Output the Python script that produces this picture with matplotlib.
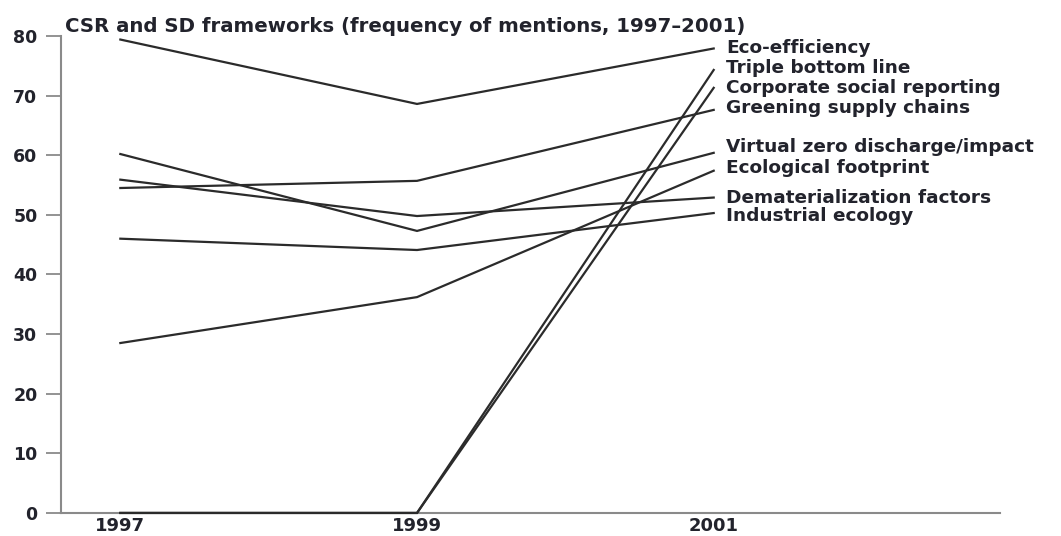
import matplotlib
matplotlib.use("Agg")
import matplotlib.pyplot as plt

years = [1997, 1999, 2001]
year_labels = ["1997", "1999", "2001"]
title = "CSR and SD frameworks (frequency of mentions, 1997\u20132001)"

series_names = [
    "Eco-efficiency",
    "Triple bottom line",
    "Corporate social reporting",
    "Greening supply chains",
    "Virtual zero discharge/impact",
    "Ecological footprint",
    "Dematerialization factors",
    "Industrial ecology",
]
eco_efficiency = [79.4, 68.6, 77.9]
triple_bottom_line = [0, 0, 74.3]
corporate_social_reporting = [0, 0, 71.3]
greening_supply_chains = [54.5, 55.7, 67.6]
virtual_zero_discharge = [60.2, 47.3, 60.4]
ecological_footprint = [28.5, 36.2, 57.4]
dematerialization = [55.9, 49.8, 52.9]
industrial_ecology = [46.0, 44.1, 50.3]

series_values = [
    eco_efficiency,
    triple_bottom_line,
    corporate_social_reporting,
    greening_supply_chains,
    virtual_zero_discharge,
    ecological_footprint,
    dematerialization,
    industrial_ecology,
]
label_nudge = [0.0, 0.4, 0.0, 0.4, 0.9, 0.5, 0.0, -0.5]

y_ticks = [0, 10, 20, 30, 40, 50, 60, 70, 80]

font = "DejaVu Sans"
weight = "bold"

fig = plt.figure(figsize=(10.61, 5.36), dpi=100)
ax = fig.add_axes([0.0575, 0.043, 0.885, 0.8899])

line_color = "#2b2b2b"
text_color = "#22232c"
spine_color = "#8a8a8a"

for name, vals, nud in zip(series_names, series_values, label_nudge):
    ax.plot(years, vals, color=line_color, lw=1.6, solid_joinstyle="miter",
            zorder=3, clip_on=False)
    ax.annotate(name, xy=(years[-1], vals[-1] + nud), xytext=(9, 0),
                textcoords="offset points", va="center", ha="left",
                fontsize=13.3, color=text_color, family=font, weight=weight)

ax.set_xlim(1996.6, 2002.93)
ax.set_ylim(0, 80)
ax.set_yticks(y_ticks)
ax.set_yticklabels([str(t) for t in y_ticks], family=font, fontsize=12.5,
                   color=text_color, weight=weight)
ax.set_xticks(years)
ax.set_xticklabels(year_labels, family=font, fontsize=13,
                   color=text_color, weight=weight)
ax.tick_params(axis="y", direction="out", length=11, width=1.3, color=spine_color, pad=6)
ax.tick_params(axis="x", length=0, pad=3)

for s in ["top", "right"]:
    ax.spines[s].set_visible(False)
for s in ["left", "bottom"]:
    ax.spines[s].set_color(spine_color)
    ax.spines[s].set_linewidth(1.5)

fig.text(0.061, 0.9403, title, fontsize=14.2, color=text_color, family=font,
         weight=weight, ha="left", va="baseline")

fig.savefig("out.png", dpi=100)
